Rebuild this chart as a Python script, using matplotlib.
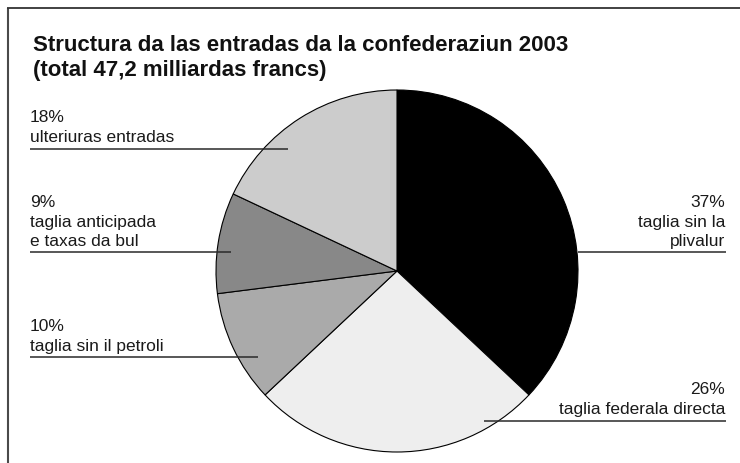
import matplotlib
matplotlib.use("Agg")
import matplotlib.pyplot as plt

TITLE_FONT = "Liberation Sans"
LABEL_FONT = "Liberation Sans"

title_lines = ["Structura da las entradas da la confederaziun 2003",
               "(total 47,2 milliardas francs)"]
categories = ["taglia sin la\nplivalur", "taglia federala directa",
              "taglia sin il petroli", "taglia anticipada\ne taxas da bul",
              "ulteriuras entradas"]
values = [37, 26, 10, 9, 18]
colors = ["#000000", "#eeeeee", "#aaaaaa", "#888888", "#cccccc"]

W, H = 740, 464
fig = plt.figure(figsize=(W / 100, H / 100), dpi=100)
ax = fig.add_axes([0, 0, 1, 1])
ax.set_xlim(0, W)
ax.set_ylim(0, H)
ax.set_aspect("equal")
ax.axis("off")

def Y(y):
    return H - y

# frame (top and left edges)
ax.plot([7.5, 7.5], [Y(9), Y(470)], color="#4a4a4a", lw=1.5, solid_capstyle="butt")
ax.plot([7, 745], [Y(9), Y(9)], color="#333333", lw=1.3, solid_capstyle="butt")

# title
ax.text(33, Y(51), title_lines[0], fontsize=16, fontweight="bold", family=TITLE_FONT,
        va="baseline", ha="left", color="#111111")
ax.text(33, Y(76), title_lines[1], fontsize=16, fontweight="bold", family=TITLE_FONT,
        va="baseline", ha="left", color="#111111")

# pie
ax.pie(values, colors=colors, startangle=90, counterclock=False,
       center=(397, Y(272)), radius=181,
       wedgeprops=dict(edgecolor="black", linewidth=0.8))
ax.set_xlim(0, W)
ax.set_ylim(0, H)

# labels: (text x, first baseline y, align, line y, line x0, line x1)
label_layout = [
    (725, 207, "right", 253, 578, 726),
    (725, 394, "right", 422, 484, 726),
    (30, 331, "left", 358, 30, 258),
    (30, 207, "left", 253, 30, 231),
    (30, 122, "left", 150, 30, 288),
]
for cat, val, (tx, ty, al, ly, lx0, lx1) in zip(categories, values, label_layout):
    lines = [f"{val}%"] + cat.split("\n")
    for i, ln in enumerate(lines):
        ax.text(tx, Y(ty + i * 19.7), ln, fontsize=12.5, family=LABEL_FONT,
                ha=al, va="baseline", color="#1a1a1a")
    ax.plot([lx0, lx1], [Y(ly), Y(ly)], color="#2a2a2a", lw=1.1, solid_capstyle="butt")

fig.savefig("out.png", dpi=100)
